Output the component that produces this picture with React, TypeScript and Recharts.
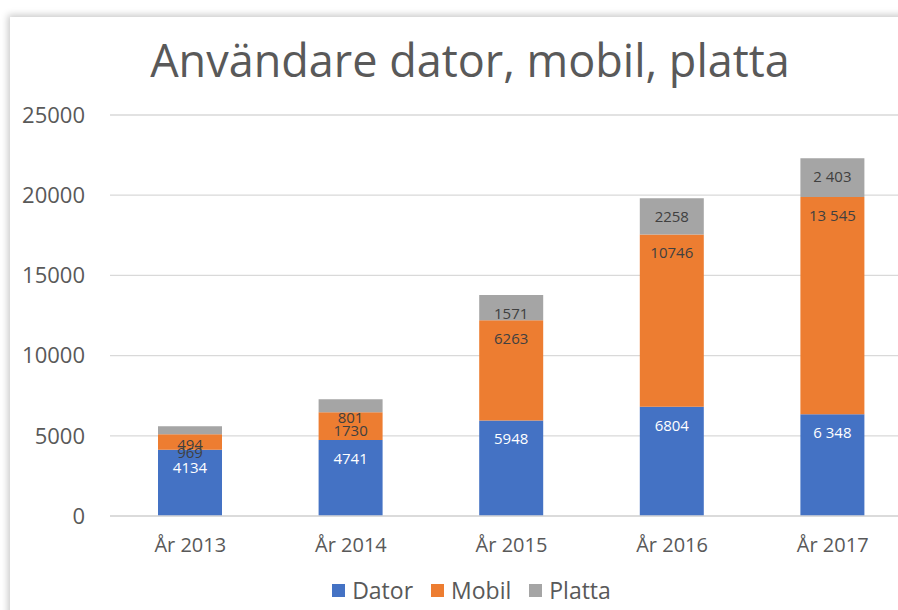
import React from "react";
import { BarChart, Bar, XAxis, YAxis, CartesianGrid, Legend, LabelList } from "recharts";

const categories = ["År 2013", "År 2014", "År 2015", "År 2016", "År 2017"];
const dator = [4134, 4741, 5948, 6804, 6348];
const mobil = [969, 1730, 6263, 10746, 13545];
const platta = [494, 801, 1571, 2258, 2403];
const datorLabels = ["4134", "4741", "5948", "6804", "6 348"];
const mobilLabels = ["969", "1730", "6263", "10746", "13 545"];
const plattaLabels = ["494", "801", "1571", "2258", "2 403"];
const yTicks = [0, 5000, 10000, 15000, 20000, 25000];

const series = [
  { key: "Dator", color: "#4472C4", labelKey: "DatorLabel", labelColor: "#FFFFFF" },
  { key: "Mobil", color: "#ED7D31", labelKey: "MobilLabel", labelColor: "#404040" },
  { key: "Platta", color: "#A5A5A5", labelKey: "PlattaLabel", labelColor: "#404040" },
];

const data = categories.map((c, i) => ({
  name: c,
  Dator: dator[i],
  Mobil: mobil[i],
  Platta: platta[i],
  DatorLabel: datorLabels[i],
  MobilLabel: mobilLabels[i],
  PlattaLabel: plattaLabels[i],
}));

const FONT = "'Open Sans', 'Noto Sans', sans-serif";

const LegendContent = () => (
  <div style={{ display: "flex", justifyContent: "center", alignItems: "center", paddingLeft: 20, paddingTop: 4, fontFamily: FONT }}>
    {series.map((s) => (
      <div key={s.key} style={{ display: "flex", alignItems: "center", margin: "0 9px" }}>
        <span style={{ width: 13, height: 13, background: s.color, display: "inline-block", marginRight: 7 }} />
        <span style={{ fontSize: 23, color: "#595959" }}>{s.key}</span>
      </div>
    ))}
  </div>
);

export default function App() {
  return (
    <div style={{ position: "fixed", left: 0, top: 0, width: 898, height: 610, overflow: "hidden", background: "#fff" }}>
      <div
        style={{
          position: "absolute",
          left: 10,
          top: 17,
          width: 920,
          height: 640,
          background: "#fff",
          boxShadow: "0 0 7px 2px rgba(0,0,0,0.22)",
        }}
      >
        <div
          style={{
            position: "absolute",
            left: 0,
            top: 15,
            width: 920,
            textAlign: "center",
            fontFamily: FONT,
            fontSize: 45,
            color: "#595959",
            lineHeight: "56px",
          }}
        >
          Användare dator, mobil, platta
        </div>
        <BarChart
          width={920}
          height={593}
          data={data}
          margin={{ top: 98, right: 17, bottom: 0, left: 0 }}
          barSize={64}
        >
          <CartesianGrid vertical={false} stroke="#D9D9D9" strokeWidth={1.3} />
          <XAxis
            dataKey="name"
            axisLine={{ stroke: "#D9D9D9", strokeWidth: 1.3 }}
            tickLine={false}
            height={54}
            tickMargin={16}
            tick={{ fill: "#595959", fontSize: 20, fontFamily: FONT }}
          />
          <YAxis
            width={100}
            domain={[0, 25000]}
            ticks={yTicks}
            axisLine={false}
            tickLine={false}
            tickSize={0}
            tickMargin={25}
            interval={0}
            tick={{ fill: "#595959", fontSize: 22, fontFamily: FONT }}
          />
          <Legend verticalAlign="bottom" height={40} content={<LegendContent />} />
          {series.map((s) => (
            <Bar key={s.key} dataKey={s.key} stackId="a" fill={s.color} isAnimationActive={false}>
              <LabelList
                dataKey={s.labelKey}
                position="insideTop"
                offset={13}
                fill={s.labelColor}
                fontSize={15}
                fontFamily={FONT}
              />
            </Bar>
          ))}
        </BarChart>
      </div>
    </div>
  );
}
